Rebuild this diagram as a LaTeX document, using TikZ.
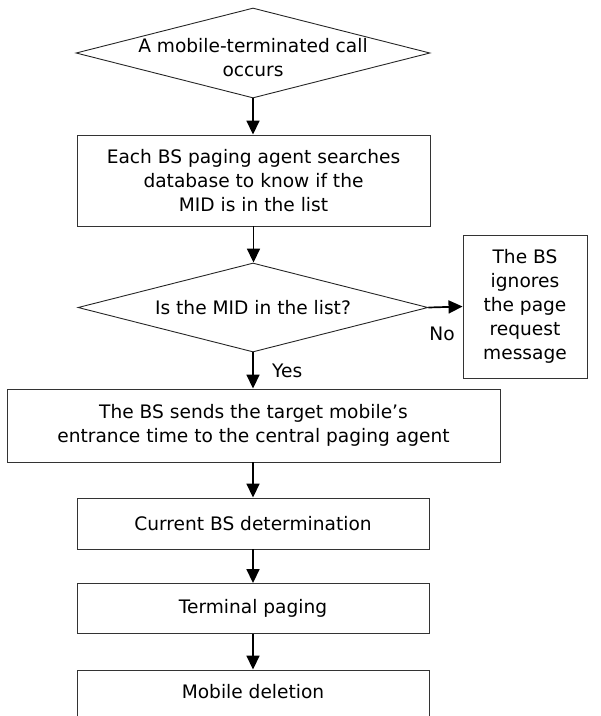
\documentclass[tikz,border=0pt]{standalone}
\usepackage{fontspec}
\setmainfont{DejaVu Sans}
\usetikzlibrary{shapes.geometric,arrows.meta}

\tikzset{
  flowbox/.style={draw=black!80, line width=0.9pt, rectangle, inner sep=0pt, align=center},
  decision/.style={draw=black!85, line width=0.9pt, diamond, inner sep=0pt},
  flowarrow/.style={line width=1.7pt, -{Triangle[length=14pt,width=13pt]}},
}

\begin{document}
\begin{tikzpicture}[x=1pt, y=1pt, font=\fontsize{18.6}{24}\selectfont]
\clip (0,0) rectangle (601,-716);
% decisions
\node[decision, minimum width=354pt, minimum height=90pt,
  label={[align=center, yshift=-5pt]center:A mobile-terminated call\\occurs}] (start) at (253,-53) {};
\node[decision, minimum width=350pt, minimum height=89pt,
  label={center:Is the MID in the list?}] (check) at (253,-307.5) {};
% steps
\node[flowbox, minimum width=353pt, minimum height=91pt] (search) at (253.5,-180.5)
  {Each BS paging agent searches\\database to know if the\\MID is in the list};
\node[flowbox, minimum width=124pt, minimum height=143pt] (ignore) at (525,-306.5)
  {The BS\\ignores\\the page\\request\\message};
\node[flowbox, minimum width=493pt, minimum height=73pt] (send) at (253.5,-425.5)
  {The BS sends the target mobile’s\\entrance time to the central paging agent};
\node[flowbox, minimum width=352pt, minimum height=51pt] (current) at (253,-523.5)
  {Current BS determination};
\node[flowbox, minimum width=352pt, minimum height=50pt] (paging) at (253,-608.5)
  {Terminal paging};
\node[flowbox, minimum width=352pt, minimum height=56pt, text depth=0pt] (deletion) at (253,-698)
  {\raisebox{14pt}{Mobile deletion}};
% connectors
\draw[flowarrow] (start.south) -- (start.south |- search.north);
\draw[flowarrow] (search.south) -- (search.south |- check.north);
\draw[flowarrow] (check.east) -- (ignore.west) node[pos=0.4, below=16pt] {No};
\draw[flowarrow] (check.south) -- (check.south |- send.north) node[midway, right=15pt] {Yes};
\draw[flowarrow] (send.south -| current.north) -- (current.north);
\draw[flowarrow] (current.south) -- (paging.north);
\draw[flowarrow] (paging.south) -- (deletion.north);
\end{tikzpicture}
\end{document}
